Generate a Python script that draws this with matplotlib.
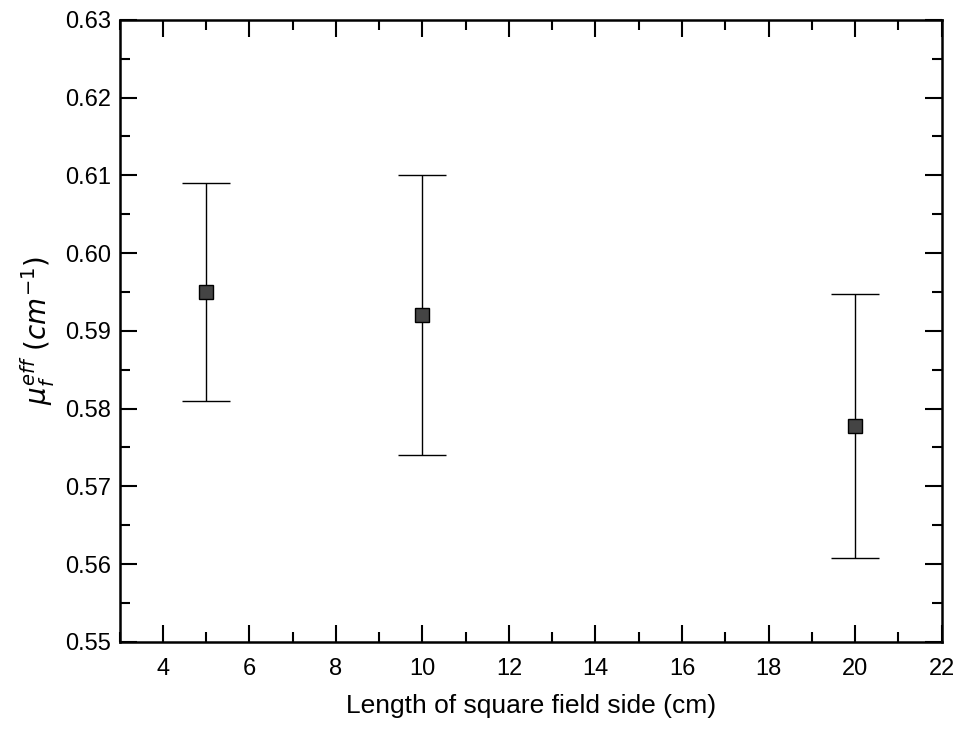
import matplotlib.pyplot as plt
from matplotlib.ticker import MultipleLocator

# field side length (cm) and effective attenuation coefficient
field_side = [5, 10, 20]
mu_eff = [0.595, 0.5920, 0.5778]
mu_err = [0.0140, 0.0180, 0.0170]

plt.rcParams["font.family"] = ["Liberation Sans", "DejaVu Sans"]

fig = plt.figure(figsize=(9.56, 7.36), dpi=100)
ax = fig.add_axes([0.125, 0.128, 0.86, 0.845])

ax.errorbar(field_side, mu_eff, yerr=mu_err, fmt="s", color="black",
            markerfacecolor="#444444", markeredgecolor="black", markersize=10,
            elinewidth=1.0, capsize=17, capthick=1.0)

ax.set_xlim(3, 22)
ax.set_ylim(0.55, 0.63)
ax.xaxis.set_minor_locator(MultipleLocator(1))
ax.yaxis.set_major_locator(MultipleLocator(0.01))
ax.yaxis.set_minor_locator(MultipleLocator(0.005))
ax.set_xticks(range(4, 23, 2))
ax.yaxis.set_major_formatter(plt.FuncFormatter(lambda v, p: f"{v:.2f}"))

ax.tick_params(which="both", direction="in", top=True, right=True, width=1.5,
               labelsize=17)
ax.tick_params(axis="x", pad=12)
ax.tick_params(axis="y", pad=6)
ax.tick_params(which="major", length=12)
ax.tick_params(which="minor", length=7)
for s in ax.spines.values():
    s.set_linewidth(1.8)

ax.set_xlabel("Length of square field side (cm)", fontsize=19, labelpad=10)
ax.set_ylabel(r"$\mu_f^{eff}\ (cm^{-1})$", fontsize=20, labelpad=6)

fig.savefig("out.png", dpi=100)
